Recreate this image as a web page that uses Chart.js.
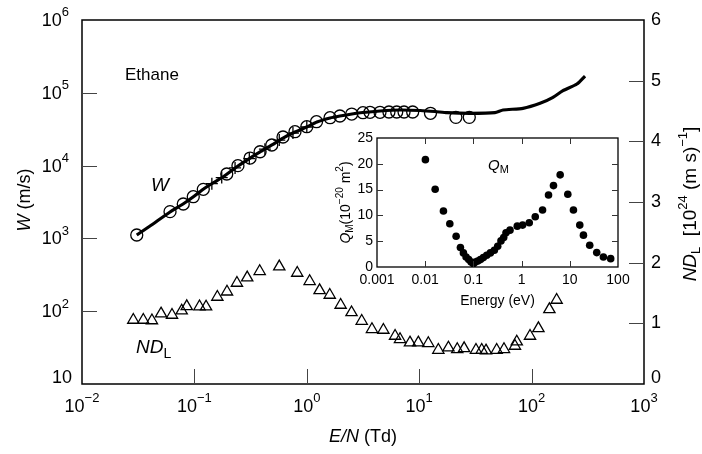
<!DOCTYPE html>
<html>
<head>
<meta charset="utf-8">
<script src="https://cdn.jsdelivr.net/npm/chart.js@4.4.1/dist/chart.umd.min.js"></script>
<style>
  body { margin: 0; background: #fff; }
  #wrap { position: relative; width: 702px; height: 454px; }
  #main { position: absolute; left: 0; top: 0; }
  #inset { position: absolute; left: 330px; top: 125px; }
</style>
</head>
<body>
<div id="wrap">
  <canvas id="main" width="702" height="454"></canvas>
  <canvas id="inset" width="300" height="185"></canvas>
</div>
<script>
const FONT = '"Liberation Sans", Arial, sans-serif';

// W (m/s) against E/N (Td), solid curve
const lineEN = [0.0307, 0.0403, 0.0607, 0.0793, 0.0973, 0.119, 0.146, 0.179, 0.244, 0.313, 0.384, 0.490, 0.614, 0.785, 1.00, 1.23, 1.61, 1.97, 2.52, 3.16, 4.48, 6.75, 10.2, 13.8, 17.7, 28.3, 47.2, 55.7, 83.8, 119, 155, 190, 253, 299];
const lineW = [1114, 1479, 2307, 2970, 3704, 4700, 5770, 6970, 9880, 12700, 15400, 19200, 23900, 28900, 33900, 39700, 45100, 48000, 51200, 53600, 56200, 58000, 57100, 55300, 53300, 52200, 53300, 58000, 61200, 71700, 86700, 107000, 132000, 170000];

// W, open circles
const circEN = [0.0307, 0.0607, 0.0796, 0.0977, 0.120, 0.194, 0.244, 0.313, 0.384, 0.488, 0.614, 0.785, 1.0, 1.22, 1.61, 1.97, 2.51, 3.16, 3.65, 4.48, 5.38, 6.31, 7.33, 8.75, 12.6, 21.2, 27.9];
const circW = [1114, 2330, 2970, 3740, 4720, 7670, 9980, 12700, 15500, 19200, 24700, 29200, 34200, 40100, 45500, 48000, 51100, 53300, 54000, 54000, 54500, 54500, 54500, 54500, 52300, 46000, 46000];

// W, crosses
const crossEN = [0.143, 0.175, 0.230, 0.308, 0.424, 0.569, 0.753, 1.0];
const crossW = [5650, 6850, 9300, 12500, 16800, 22400, 28000, 33900];

// ND_L [10^24 (m s)^-1], triangles on the right axis
const ndEN = [0.0286, 0.0351, 0.0419, 0.0505, 0.0632, 0.0771, 0.0855, 0.111, 0.127, 0.160, 0.195, 0.239, 0.295, 0.381, 0.569, 0.822, 1.06, 1.30, 1.60, 2.00, 2.50, 3.08, 3.80, 4.80, 6.10, 6.75, 8.28, 9.82, 12.05, 14.8, 18.2, 21.8, 25.1, 32.0, 36.0, 39.3, 48.9, 56.8, 71.1, 73.8, 96.8, 115, 144, 167];
const ndL = [1.055, 1.055, 1.047, 1.159, 1.137, 1.208, 1.279, 1.277, 1.274, 1.434, 1.521, 1.665, 1.753, 1.858, 1.934, 1.830, 1.693, 1.544, 1.467, 1.302, 1.179, 1.038, 0.902, 0.890, 0.791, 0.737, 0.681, 0.681, 0.671, 0.560, 0.598, 0.572, 0.588, 0.560, 0.560, 0.549, 0.560, 0.572, 0.626, 0.697, 0.791, 0.918, 1.231, 1.385];

// inset: Q_M (10^-20 m^2) against energy (eV)
const qmE = [0.0101, 0.0161, 0.0239, 0.0324, 0.0438, 0.0538, 0.0621, 0.0705, 0.080, 0.0895, 0.100, 0.110, 0.123, 0.140, 0.161, 0.189, 0.225, 0.272, 0.319, 0.373, 0.425, 0.474, 0.574, 0.813, 1.05, 1.44, 1.92, 2.72, 3.62, 4.59, 6.31, 9.09, 11.9, 16.1, 19.2, 25.9, 36.2, 49.8, 70.5];
const qmV = [20.8, 15.06, 10.84, 8.38, 5.97, 3.77, 2.73, 1.95, 1.43, 0.97, 0.65, 0.97, 1.17, 1.43, 1.82, 2.27, 2.73, 3.25, 4.03, 5.06, 5.71, 6.62, 7.14, 7.92, 8.12, 8.57, 9.74, 11.04, 13.96, 15.78, 17.86, 14.09, 11.04, 8.12, 6.17, 4.22, 2.79, 1.95, 1.62];

// tick values
const xTicks = [0.01, 0.1, 1, 10, 100, 1000];
const wTicks = [10, 100, 1000, 10000, 100000, 1000000];
const ndTicks = [0, 1, 2, 3, 4, 5, 6];
const eTicks = [0.001, 0.01, 0.1, 1, 10, 100];
const eLabels = ['0.001', '0.01', '0.1', '1', '10', '100'];
const qTicks = [0, 5, 10, 15, 20, 25];

const pts = (xs, ys) => xs.map((x, i) => ({ x: x, y: ys[i] }));
const expStr = v => String(Math.round(Math.log10(v))).replace('-', '\u2212');

// text with mixed italic / sub / superscript runs
function runs(ctx, list, x, y, align) {
  let w = 0;
  list.forEach(r => {
    ctx.font = (r.i ? 'italic ' : '') + r.s + 'px ' + FONT;
    r.w = ctx.measureText(r.t).width;
    w += r.w;
  });
  let cx = align === 'center' ? x - w / 2 : align === 'right' ? x - w : x;
  ctx.textAlign = 'left';
  ctx.textBaseline = 'middle';
  list.forEach(r => {
    ctx.font = (r.i ? 'italic ' : '') + r.s + 'px ' + FONT;
    ctx.fillText(r.t, cx, y + (r.dy || 0));
    cx += r.w;
  });
}

function pow10(ctx, v, x, y, align, size) {
  runs(ctx, [{ t: '10', s: size }, { t: expStr(v), s: Math.round(size * 0.7), dy: -size * 0.45 }], x, y, align);
}

const mainDeco = {
  id: 'mainDeco',
  afterDraw(chart) {
    const ctx = chart.ctx, a = chart.chartArea;
    const sx = chart.scales.x, sy = chart.scales.y, sy2 = chart.scales.y2;
    ctx.save();
    ctx.fillStyle = '#000';
    ctx.strokeStyle = '#000';
    ctx.lineWidth = 1.5;
    ctx.strokeRect(a.left, a.top, a.right - a.left, a.bottom - a.top);

    // inward ticks
    ctx.lineWidth = 1;
    ctx.strokeStyle = '#444';
    ctx.beginPath();
    xTicks.slice(1, -1).forEach(v => {
      const px = Math.round(sx.getPixelForValue(v)) + 0.5;
      ctx.moveTo(px, a.bottom); ctx.lineTo(px, a.bottom - 15);
    });
    wTicks.slice(1, -1).forEach(v => {
      const py = Math.round(sy.getPixelForValue(v)) + 0.5;
      ctx.moveTo(a.left, py); ctx.lineTo(a.left + 15, py);
    });
    ndTicks.slice(1, -1).forEach(v => {
      const py = Math.round(sy2.getPixelForValue(v)) + 0.5;
      ctx.moveTo(a.right, py); ctx.lineTo(a.right - 15, py);
    });
    ctx.stroke();

    // tick labels
    xTicks.forEach(v => pow10(ctx, v, sx.getPixelForValue(v), a.bottom + 23, 'center', 18));
    wTicks.forEach(v => {
      const py = sy.getPixelForValue(v);
      if (v === 10) runs(ctx, [{ t: '10', s: 18 }], 72, py - 6, 'right');
      else pow10(ctx, v, 69, py + 1, 'right', 18);
    });
    ndTicks.forEach(v => {
      const py = sy2.getPixelForValue(v);
      runs(ctx, [{ t: String(v), s: 18 }], a.right + 7, v === 0 ? py - 6 : py, 'left');
    });

    // axis titles
    runs(ctx, [{ t: 'E/N', s: 18, i: true }, { t: ' (Td)', s: 18 }], (a.left + a.right) / 2, 437, 'center');
    ctx.save();
    ctx.translate(25, 200);
    ctx.rotate(-Math.PI / 2);
    runs(ctx, [{ t: 'W', s: 18, i: true }, { t: ' (m/s)', s: 18 }], 0, 0, 'center');
    ctx.restore();
    ctx.save();
    ctx.translate(691, 204);
    ctx.rotate(-Math.PI / 2);
    runs(ctx, [
      { t: 'ND', s: 19, i: true }, { t: 'L', s: 13, dy: 5 },
      { t: '  [10', s: 19 }, { t: '24', s: 13, dy: -8 },
      { t: ' (m s)', s: 19 }, { t: '\u22121', s: 13, dy: -8 }, { t: ']', s: 19 }
    ], 0, 0, 'center');
    ctx.restore();

    // in-plot labels
    runs(ctx, [{ t: 'Ethane', s: 17 }], 125, 75, 'left');
    runs(ctx, [{ t: 'W', s: 19, i: true }], 151, 186, 'left');
    runs(ctx, [{ t: 'ND', s: 19, i: true }, { t: 'L', s: 14, dy: 6 }], 136, 348, 'left');
    ctx.restore();
  }
};

new Chart(document.getElementById('main'), {
  type: 'scatter',
  data: {
    datasets: [
      { data: pts(lineEN, lineW), yAxisID: 'y', showLine: true, borderColor: '#000', borderWidth: 3.2,
        pointRadius: 0, tension: 0.2, order: 0 },
      { data: pts(circEN, circW), yAxisID: 'y', pointStyle: 'circle', pointRadius: 6,
        borderColor: '#000', backgroundColor: 'rgba(0,0,0,0)', borderWidth: 1.3, order: 1 },
      { data: pts(crossEN, crossW), yAxisID: 'y', pointStyle: 'cross', pointRadius: 6,
        borderColor: '#000', borderWidth: 1.3, order: 1 },
      { data: pts(ndEN, ndL), yAxisID: 'y2', pointStyle: 'triangle', pointRadius: 6.5,
        borderColor: '#000', backgroundColor: 'rgba(0,0,0,0)', borderWidth: 1.3, order: 1 }
    ]
  },
  options: {
    responsive: false,
    animation: false,
    devicePixelRatio: 1,
    layout: { padding: { top: 20, left: 0, right: 0, bottom: 0 } },
    plugins: { legend: { display: false }, tooltip: { enabled: false } },
    scales: {
      x: {
        type: 'logarithmic', min: 0.01, max: 1000, position: 'bottom',
        ticks: { display: false }, grid: { display: false }, border: { display: false },
        afterFit(s) { s.height = 70; }
      },
      y: {
        type: 'logarithmic', min: 10, max: 1000000, position: 'left',
        ticks: { display: false }, grid: { display: false }, border: { display: false },
        afterFit(s) { s.width = 82; }
      },
      y2: {
        type: 'linear', min: 0, max: 6, position: 'right',
        ticks: { display: false }, grid: { display: false }, border: { display: false },
        afterFit(s) { s.width = 58; }
      }
    }
  },
  plugins: [mainDeco]
});

const insetDeco = {
  id: 'insetDeco',
  afterDraw(chart) {
    const ctx = chart.ctx, a = chart.chartArea;
    const sx = chart.scales.x, sy = chart.scales.y;
    ctx.save();
    ctx.fillStyle = '#000';
    ctx.strokeStyle = '#000';
    ctx.lineWidth = 1.3;
    ctx.strokeRect(a.left, a.top, a.right - a.left, a.bottom - a.top);

    ctx.lineWidth = 1;
    ctx.strokeStyle = '#333';
    ctx.beginPath();
    eTicks.slice(1, -1).forEach(v => {
      const px = Math.round(sx.getPixelForValue(v)) + 0.5;
      ctx.moveTo(px, a.bottom); ctx.lineTo(px, a.bottom - 6);
      ctx.moveTo(px, a.top); ctx.lineTo(px, a.top + 6);
    });
    qTicks.slice(1, -1).forEach(v => {
      const py = Math.round(sy.getPixelForValue(v)) + 0.5;
      ctx.moveTo(a.left, py); ctx.lineTo(a.left + 6, py);
      ctx.moveTo(a.right, py); ctx.lineTo(a.right - 6, py);
    });
    ctx.stroke();

    eTicks.forEach((v, i) => runs(ctx, [{ t: eLabels[i], s: 14 }], sx.getPixelForValue(v), a.bottom + 13, 'center'));
    qTicks.forEach(v => runs(ctx, [{ t: String(v), s: 14 }], a.left - 4, sy.getPixelForValue(v), 'right'));

    runs(ctx, [{ t: 'Energy (eV)', s: 14 }], (a.left + a.right) / 2, a.bottom + 34, 'center');
    ctx.save();
    ctx.translate(16, (a.top + a.bottom) / 2);
    ctx.rotate(-Math.PI / 2);
    runs(ctx, [
      { t: 'Q', s: 14, i: true }, { t: 'M', s: 10, dy: 4 }, { t: '(10', s: 14 },
      { t: '\u221220', s: 10, dy: -6 }, { t: ' m', s: 14 }, { t: '2', s: 10, dy: -6 }, { t: ')', s: 14 }
    ], 0, 0, 'center');
    ctx.restore();
    runs(ctx, [{ t: 'Q', s: 15, i: true }, { t: 'M', s: 11, dy: 4 }], 158, 41, 'left');
    ctx.restore();
  }
};

new Chart(document.getElementById('inset'), {
  type: 'scatter',
  data: {
    datasets: [
      { data: pts(qmE, qmV), pointStyle: 'circle', pointRadius: 3.8,
        backgroundColor: '#000', borderColor: '#000', borderWidth: 0 }
    ]
  },
  options: {
    responsive: false,
    animation: false,
    devicePixelRatio: 1,
    layout: { padding: { top: 13, right: 12, left: 0, bottom: 0 } },
    plugins: { legend: { display: false }, tooltip: { enabled: false } },
    scales: {
      x: {
        type: 'logarithmic', min: 0.001, max: 100,
        ticks: { display: false }, grid: { display: false }, border: { display: false },
        afterFit(s) { s.height = 43; }
      },
      y: {
        type: 'linear', min: 0, max: 25,
        ticks: { display: false }, grid: { display: false }, border: { display: false },
        afterFit(s) { s.width = 47; }
      }
    }
  },
  plugins: [insetDeco]
});
</script>
</body>
</html>
